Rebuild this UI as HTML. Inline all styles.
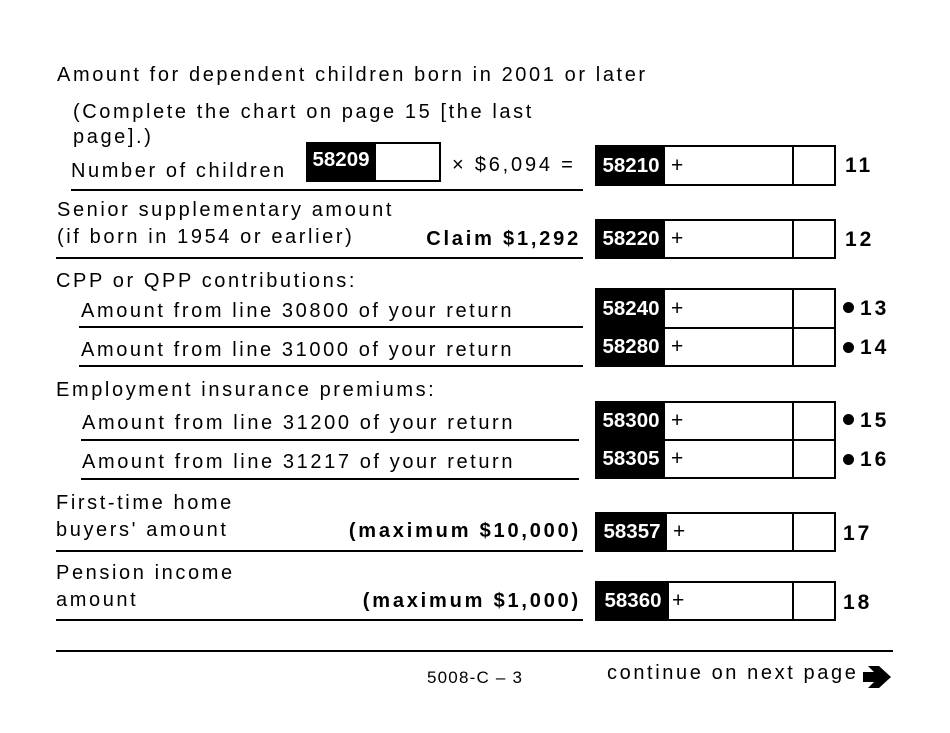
<!DOCTYPE html>
<html>
<head>
<meta charset="utf-8">
<style>
  html, body { margin:0; padding:0; background:#fff; }
  body { width:950px; height:733px; position:relative; overflow:hidden;
         font-family:"Liberation Sans", Arial, sans-serif; color:#000; }
  .t { position:absolute; font-size:20px; line-height:20px; letter-spacing:2.6px; white-space:nowrap; }
  .b { font-weight:bold; letter-spacing:2.8px; }
  .r { text-align:right; right:369px; }
  .ln { position:absolute; height:2px; background:#000; }
  .box { position:absolute; left:595px; width:241px; border:2px solid #000; box-sizing:border-box; background:#fff; }
  .lab { position:absolute; left:0; top:0; bottom:0; width:68px; background:#000; }
  .vd { position:absolute; left:195px; top:0; bottom:0; width:2px; background:#000; }
  .hd { position:absolute; left:68px; right:0; height:2px; background:#000; }
  .row { position:absolute; left:0; right:0; display:flex; align-items:center; }
  .code { width:68px; text-align:center; color:#fff; font-weight:bold; font-size:20.5px; line-height:20px; }
  .plus { margin-left:6px; font-size:21px; line-height:20px; }
  .num { position:absolute; font-weight:bold; font-size:21px; line-height:21px; letter-spacing:3px; white-space:nowrap; }
  .dot { position:absolute; width:11px; height:11px; border-radius:50%; background:#000; }
</style>
</head>
<body>

<!-- Section: dependent children -->
<div class="t" style="left:57px;top:65px;">Amount for dependent children born in 2001 or later</div>
<div class="t" style="left:73px;top:102px;">(Complete the chart on page 15 [the last</div>
<div class="t" style="left:73px;top:127px;">page].)</div>
<div class="t" style="left:71px;top:161px;">Number of children</div>
<div class="ln" style="left:71px;top:189px;width:512px;"></div>

<div style="position:absolute;left:306px;top:142px;width:70px;height:40px;background:#000;"></div>
<div style="position:absolute;left:306px;top:142px;width:70px;height:36px;display:flex;align-items:center;justify-content:center;color:#fff;font-weight:bold;font-size:20.5px;line-height:20px;">58209</div>
<div style="position:absolute;left:374px;top:142px;width:67px;height:40px;border:2px solid #000;box-sizing:border-box;border-left:none;"></div>
<div class="t" style="left:452px;top:155px;letter-spacing:2.8px;">× $6,094 =</div>

<div class="box" style="top:145px;height:41px;">
  <div class="lab"></div><div class="vd"></div>
  <div class="row" style="top:0;bottom:0;"><div class="code">58210</div><div class="plus">+</div></div>
</div>
<div class="num" style="left:845px;top:155px;">11</div>

<!-- Senior -->
<div class="t" style="left:57px;top:200px;">Senior supplementary amount</div>
<div class="t" style="left:57px;top:227px;">(if born in 1954 or earlier)</div>
<div class="t b r" style="top:229px;">Claim $1,292</div>
<div class="ln" style="left:56px;top:257px;width:527px;"></div>

<div class="box" style="top:219px;height:40px;">
  <div class="lab"></div><div class="vd"></div>
  <div class="row" style="top:0;bottom:0;"><div class="code">58220</div><div class="plus">+</div></div>
</div>
<div class="num" style="left:845px;top:229px;">12</div>

<!-- CPP -->
<div class="t" style="left:56px;top:271px;">CPP or QPP contributions:</div>
<div class="t" style="left:81px;top:301px;">Amount from line 30800 of your return</div>
<div class="ln" style="left:79px;top:326px;width:504px;"></div>
<div class="t" style="left:81px;top:340px;">Amount from line 31000 of your return</div>
<div class="ln" style="left:79px;top:365px;width:504px;"></div>

<div class="box" style="top:288px;height:79px;">
  <div class="lab"></div><div class="vd"></div>
  <div class="hd" style="top:37px;"></div>
  <div class="row" style="top:0;height:37px;"><div class="code">58240</div><div class="plus">+</div></div>
  <div class="row" style="top:39px;height:36px;"><div class="code">58280</div><div class="plus">+</div></div>
</div>
<div class="dot" style="left:843px;top:302px;"></div>
<div class="num" style="left:860px;top:298px;">13</div>
<div class="dot" style="left:843px;top:342px;"></div>
<div class="num" style="left:860px;top:337px;">14</div>

<!-- EI -->
<div class="t" style="left:56px;top:380px;">Employment insurance premiums:</div>
<div class="t" style="left:82px;top:413px;">Amount from line 31200 of your return</div>
<div class="ln" style="left:81px;top:439px;width:498px;"></div>
<div class="t" style="left:82px;top:452px;">Amount from line 31217 of your return</div>
<div class="ln" style="left:81px;top:478px;width:498px;"></div>

<div class="box" style="top:401px;height:78px;">
  <div class="lab"></div><div class="vd"></div>
  <div class="hd" style="top:36px;"></div>
  <div class="row" style="top:0;height:36px;"><div class="code">58300</div><div class="plus">+</div></div>
  <div class="row" style="top:38px;height:36px;"><div class="code">58305</div><div class="plus">+</div></div>
</div>
<div class="dot" style="left:843px;top:414px;"></div>
<div class="num" style="left:860px;top:410px;">15</div>
<div class="dot" style="left:843px;top:454px;"></div>
<div class="num" style="left:860px;top:449px;">16</div>

<!-- First-time home buyers -->
<div class="t" style="left:56px;top:493px;">First-time home</div>
<div class="t" style="left:56px;top:520px;">buyers' amount</div>
<div class="t b r" style="top:521px;">(maximum $10,000)</div>
<div class="ln" style="left:56px;top:550px;width:527px;"></div>

<div class="box" style="top:512px;height:40px;">
  <div class="lab" style="width:70px;"></div><div class="vd"></div>
  <div class="row" style="top:0;bottom:0;"><div class="code" style="width:70px;">58357</div><div class="plus">+</div></div>
</div>
<div class="num" style="left:843px;top:523px;">17</div>

<!-- Pension -->
<div class="t" style="left:56px;top:563px;">Pension income</div>
<div class="t" style="left:56px;top:590px;">amount</div>
<div class="t b r" style="top:591px;">(maximum $1,000)</div>
<div class="ln" style="left:56px;top:619px;width:527px;"></div>

<div class="box" style="top:581px;height:40px;">
  <div class="lab" style="width:72px;"></div><div class="vd"></div>
  <div class="row" style="top:0;bottom:0;"><div class="code" style="width:72px;">58360</div><div class="plus" style="margin-left:3px;">+</div></div>
</div>
<div class="num" style="left:843px;top:592px;">18</div>

<!-- Footer -->
<div class="ln" style="left:56px;top:650px;width:837px;"></div>
<div class="t" style="left:427px;top:669px;font-size:17px;line-height:17px;letter-spacing:1.2px;">5008-C – 3</div>
<div class="t" style="left:607px;top:663px;">continue on next page</div>
<svg style="position:absolute;left:0;top:0;" width="950" height="733">
  <polygon points="863,672 874,672 868,666 879,666 891,677 879,688 868,688 874,682 863,682" fill="#000"/>
</svg>

</body>
</html>
